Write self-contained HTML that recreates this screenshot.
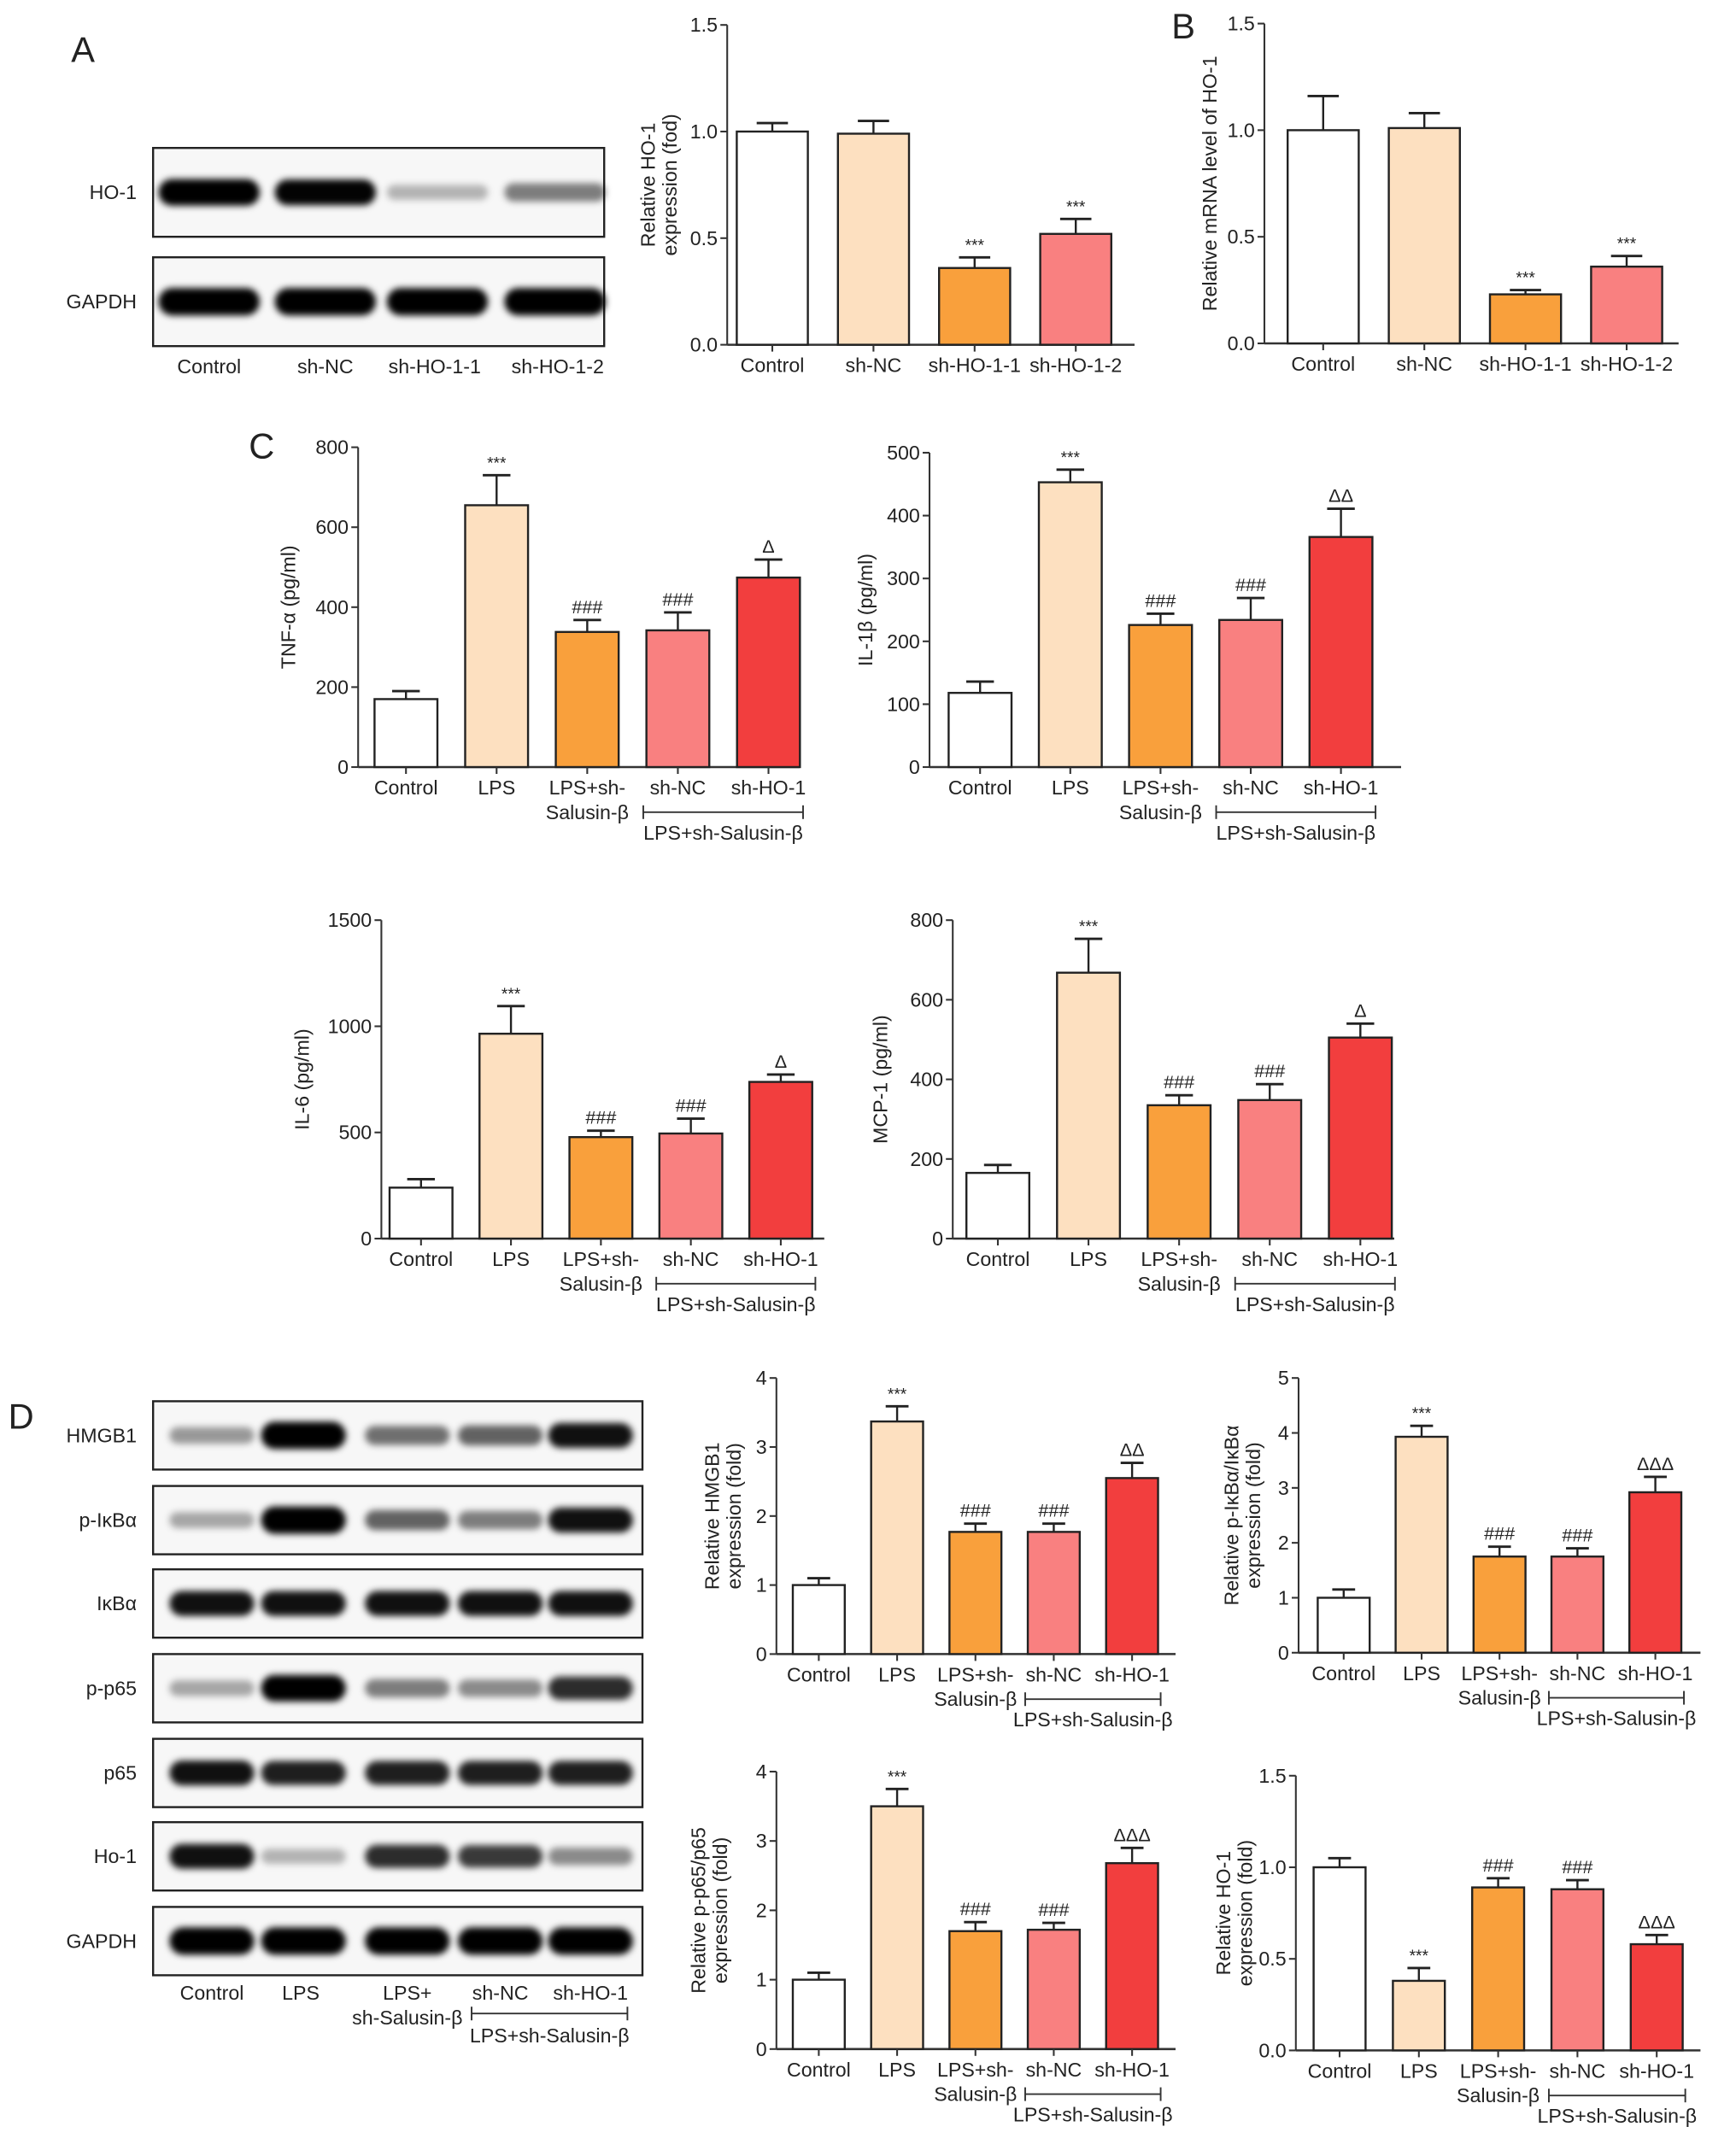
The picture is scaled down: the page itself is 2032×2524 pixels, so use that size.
<!DOCTYPE html>
<html><head><meta charset="utf-8"><style>
html,body{margin:0;padding:0;background:#fff;}
svg{display:block;font-family:"Liberation Sans",sans-serif;}
</style></head><body>
<svg id="fig" width="2032" height="2524" viewBox="0 0 1270 1577" xmlns="http://www.w3.org/2000/svg">
<defs>
<filter id="blur" x="-20%" y="-100%" width="140%" height="300%"><feGaussianBlur stdDeviation="2.5 2.5"/></filter>
</defs>
<g id="root"></g>
</svg>
<script>
// ===== Data =====
const catA = ["Control","sh-NC","sh-HO-1-1","sh-HO-1-2"];
const hoProtValues = [1.0, 0.99, 0.36, 0.52];
const hoProtErrors = [0.04, 0.06, 0.05, 0.07];
const hoProtSig = ["","","***","***"];
const hoProtTicks = ["0.0","0.5","1.0","1.5"];
const hoMrnaValues = [1.0, 1.01, 0.23, 0.36];
const hoMrnaErrors = [0.16, 0.07, 0.02, 0.05];
const hoMrnaSig = ["","","***","***"];

const tnfValues = [170, 655, 338, 342, 474];
const tnfErrors = [20, 75, 30, 45, 45];
const tnfSig = ["","***","###","###","Δ"];
const tnfTicks = ["0","200","400","600","800"];
const il1Values = [118, 453, 226, 234, 366];
const il1Errors = [18, 20, 18, 35, 45];
const il1Sig = ["","***","###","###","ΔΔ"];
const il1Ticks = ["0","100","200","300","400","500"];
const il6Values = [240, 965, 478, 495, 738];
const il6Errors = [40, 130, 30, 70, 35];
const il6Sig = ["","***","###","###","Δ"];
const il6Ticks = ["0","500","1000","1500"];
const mcpValues = [165, 668, 335, 348, 505];
const mcpErrors = [20, 85, 25, 40, 35];
const mcpSig = ["","***","###","###","Δ"];
const mcpTicks = ["0","200","400","600","800"];

const hmgbValues = [1.0, 3.37, 1.77, 1.77, 2.55];
const hmgbErrors = [0.1, 0.22, 0.12, 0.12, 0.22];
const hmgbSig = ["","***","###","###","ΔΔ"];
const hmgbTicks = ["0","1","2","3","4"];
const pikbValues = [1.0, 3.93, 1.75, 1.75, 2.92];
const pikbErrors = [0.15, 0.2, 0.18, 0.15, 0.28];
const pikbSig = ["","***","###","###","ΔΔΔ"];
const pikbTicks = ["0","1","2","3","4","5"];
const pp65Values = [1.0, 3.5, 1.7, 1.72, 2.68];
const pp65Errors = [0.1, 0.25, 0.13, 0.1, 0.22];
const pp65Sig = ["","***","###","###","ΔΔΔ"];
const hoDValues = [1.0, 0.38, 0.89, 0.88, 0.58];
const hoDErrors = [0.05, 0.07, 0.05, 0.05, 0.05];
const hoDSig = ["","***","###","###","ΔΔΔ"];
const hoDTicks = ["0.0","0.5","1.0","1.5"];

const colors5 = ["#ffffff","#fde0c0","#f9a03c","#f98080","#f23e3e"];
const colors4 = ["#ffffff","#fde0c0","#f9a03c","#f98080"];

// ===== Helpers =====
const NS="http://www.w3.org/2000/svg";
const root=document.getElementById('root');
function mk(tag,attrs,parent){const e=document.createElementNS(NS,tag);for(const k in attrs)e.setAttribute(k,attrs[k]);(parent||root).appendChild(e);return e;}
function txt(s,x,y,size,anchor,parent,extra){const t=mk('text',Object.assign({x:x,y:y,'font-size':size,'text-anchor':anchor||'middle',fill:'#222'},extra||{}),parent);t.textContent=s;return t;}

function barChart(o){
  const g=mk('g',{});
  
  
  const vmax=parseFloat(o.ticks[o.ticks.length-1]);
  const yS=v=>o.y0-(v/vmax)*(o.y0-o.yTop);
  const ax=mk('line',{x1:o.ax,y1:o.y0,x2:o.ax,y2:o.yTop,stroke:'#333','stroke-width':1.3},g);
  
  
  o.ticks.forEach(t=>{const v=parseFloat(t);const y=yS(v);
    mk('line',{x1:o.ax-5,y1:y,x2:o.ax,y2:y,stroke:'#333','stroke-width':1.3},g);
    const tl=txt(t,o.ax-7,y+5,14.5,'end',g);
    
    
  });
  const xa=mk('line',{x1:o.ax,y1:o.y0,x2:o.xEnd,y2:o.y0,stroke:'#333','stroke-width':1.6},g);
  
  
  const yt=mk('g',{transform:`translate(${o.titleX},${(o.y0+o.yTop)/2}) rotate(-90)`},g);
  
  
  o.title.forEach((l,i)=>txt(l,0,(i-(o.title.length-1))*16,14.5,'middle',yt));
  const n=o.values.length;
  const w=o.barW;
  for(let i=0;i<n;i++){
    const cx=o.x0+i*o.step;
    const y=yS(o.values[i]); const ye=yS(o.values[i]+o.errors[i]);
    mk('line',{x1:cx,y1:y,x2:cx,y2:ye,stroke:'#222','stroke-width':1.5},g);
    mk('line',{x1:cx-w*0.22,y1:ye,x2:cx+w*0.22,y2:ye,stroke:'#222','stroke-width':1.8},g);
    const b=mk('rect',{x:cx-w/2,y:y,width:w,height:o.y0-y,fill:o.colors[i],stroke:'#222','stroke-width':1.5},g);
    
    
    mk('line',{x1:cx,y1:o.y0,x2:cx,y2:o.y0+5,stroke:'#333','stroke-width':1.3},g);
    if(o.sig[i]){const s=txt(o.sig[i],cx,ye-5,o.sig[i].includes('*')?12:13.5,'middle',g);
      
      }
    const lines=o.cats[i].split('\n');
    lines.forEach((l,j)=>{const c=txt(l,cx,o.y0+20+j*18,14.5,'middle',g);
      
      });
  }
  if(o.bracket){
    const bx1=o.x0+3*o.step-o.barW*0.55, bx2=o.x0+4*o.step+o.barW*0.55;
    const by=o.y0+33;
    mk('line',{x1:bx1,y1:by,x2:bx2,y2:by,stroke:'#333','stroke-width':1.2},g);
    mk('line',{x1:bx1,y1:by-5,x2:bx1,y2:by+5,stroke:'#333','stroke-width':1.2},g);
    mk('line',{x1:bx2,y1:by-5,x2:bx2,y2:by+5,stroke:'#333','stroke-width':1.2},g);
    const bt=txt('LPS+sh-Salusin-β',(bx1+bx2)/2,by+20,14.5,'middle',g);
    
    
  }
}

const cat5=["Control","LPS","LPS+sh-\nSalusin-β","sh-NC","sh-HO-1"];

barChart({name:'chart-ho1-protein',cats:catA,values:hoProtValues,errors:hoProtErrors,sig:hoProtSig,ticks:hoProtTicks,colors:colors4,ax:532,y0:252,yTop:18,xEnd:830,x0:565,step:74,barW:52,title:['Relative HO-1','expression (fod)'],titleX:495});
barChart({name:'chart-ho1-mrna',cats:catA,values:hoMrnaValues,errors:hoMrnaErrors,sig:hoMrnaSig,ticks:hoProtTicks,colors:colors4,ax:925,y0:251,yTop:17,xEnd:1228,x0:968,step:74,barW:52,title:['Relative mRNA level of HO-1'],titleX:890});

barChart({name:'chart-tnf',cats:cat5,values:tnfValues,errors:tnfErrors,sig:tnfSig,ticks:tnfTicks,colors:colors5,ax:262,y0:561,yTop:327,xEnd:585,x0:297,step:66.3,barW:46,title:['TNF-α (pg/ml)'],titleX:216,bracket:true});
barChart({name:'chart-il1b',cats:cat5,values:il1Values,errors:il1Errors,sig:il1Sig,ticks:il1Ticks,colors:colors5,ax:680,y0:561,yTop:331,xEnd:1025,x0:717,step:66,barW:46,title:['IL-1β (pg/ml)'],titleX:638,bracket:true});
barChart({name:'chart-il6',cats:cat5,values:il6Values,errors:il6Errors,sig:il6Sig,ticks:il6Ticks,colors:colors5,ax:279,y0:906,yTop:673,xEnd:603,x0:308,step:65.8,barW:46,title:['IL-6 (pg/ml)'],titleX:226,bracket:true});
barChart({name:'chart-mcp1',cats:cat5,values:mcpValues,errors:mcpErrors,sig:mcpSig,ticks:mcpTicks,colors:colors5,ax:697,y0:906,yTop:673,xEnd:1020,x0:730,step:66.3,barW:46,title:['MCP-1 (pg/ml)'],titleX:649,bracket:true});

barChart({name:'chart-hmgb1',cats:cat5,values:hmgbValues,errors:hmgbErrors,sig:hmgbSig,ticks:hmgbTicks,colors:colors5,ax:568,y0:1210,yTop:1008,xEnd:860,x0:599,step:57.3,barW:38,title:['Relative HMGB1','expression (fold)'],titleX:542,bracket:true});
barChart({name:'chart-p-ikba',cats:cat5,values:pikbValues,errors:pikbErrors,sig:pikbSig,ticks:pikbTicks,colors:colors5,ax:950,y0:1209,yTop:1008,xEnd:1244,x0:983,step:57,barW:38,title:['Relative p-IκBα/IκBα','expression (fold)'],titleX:922,bracket:true});
barChart({name:'chart-p-p65',cats:cat5,values:pp65Values,errors:pp65Errors,sig:pp65Sig,ticks:hmgbTicks,colors:colors5,ax:568,y0:1499,yTop:1296,xEnd:860,x0:599,step:57.3,barW:38,title:['Relative p-p65/p65','expression (fold)'],titleX:532,bracket:true});
barChart({name:'chart-ho1-d',cats:cat5,values:hoDValues,errors:hoDErrors,sig:hoDSig,ticks:hoDTicks,colors:colors5,ax:948,y0:1500,yTop:1299,xEnd:1244,x0:980,step:58,barW:38,title:['Relative HO-1','expression (fold)'],titleX:916,bracket:true});

// ===== Panel letters =====
[['A',52,45],['B',857,28],['C',182,335],['D',6,1045]].forEach(p=>{const t=txt(p[0],p[1],p[2],26,'start');
  
  });

// ===== Western blots =====
const blotARows=["HO-1","GAPDH"];
const blotAIntensity=[[0.95,0.9,0.25,0.45],[1,1,1,1]];
const blotDRows=["HMGB1","p-IκBα","IκBα","p-p65","p65","Ho-1","GAPDH"];
const blotDIntensity=[[0.35,1,0.5,0.55,0.85],[0.3,1,0.55,0.45,0.85],[0.85,0.85,0.85,0.85,0.85],[0.3,0.95,0.45,0.4,0.75],[0.85,0.8,0.8,0.8,0.8],[0.85,0.25,0.75,0.7,0.4],[1,1,1,1,1]];
function blot(name,rows,inten,x1,x2,tops,h,lanes,bw){
  const g=mk('g',{});
  
  
  rows.forEach((r,i)=>{
    const y=tops[i];
    const box=mk('rect',{x:x1,y:y,width:x2-x1,height:h,fill:'#f7f7f7',stroke:'#222','stroke-width':1.5},g);
    
    
    lanes.forEach((lx,j)=>{const a=inten[i][j];const hh=8+12*a;
      mk('rect',{x:lx-bw,y:y+h/2-hh/2,width:2*bw,height:hh,rx:hh/2,ry:hh/2,fill:'#000','fill-opacity':Math.min(1,a*1.1),filter:'url(#blur)'},g);});
    const l=txt(r,x1-12,y+h/2+5,14.5,'end',g);
    
    
  });
}
blot('western-blot-a',blotARows,blotAIntensity,112,442,[108,188],65,[153,238,320,406],37);
blot('western-blot-d',blotDRows,blotDIntensity,112,470,[1025,1087,1148,1210,1272,1333,1395],50,[155,222,298,366,432],31);
[["Control",153],["sh-NC",238],["sh-HO-1-1",318],["sh-HO-1-2",408]].forEach(a=>{const t=txt(a[0],a[1],273,14.5,'middle');
  
  });
[["Control",155,1463],["LPS",220,1463],["LPS+",298,1463],["sh-Salusin-β",298,1481],["sh-NC",366,1463],["sh-HO-1",432,1463]].forEach(a=>{const t=txt(a[0],a[1],a[2],14.5,'middle');
  
  });
mk('line',{x1:345,y1:1473,x2:459,y2:1473,stroke:'#333','stroke-width':1.2});
mk('line',{x1:345,y1:1468,x2:345,y2:1478,stroke:'#333','stroke-width':1.2});
mk('line',{x1:459,y1:1468,x2:459,y2:1478,stroke:'#333','stroke-width':1.2});
{const t=txt('LPS+sh-Salusin-β',402,1494,14.5,'middle');

}
</script>
</body></html>
